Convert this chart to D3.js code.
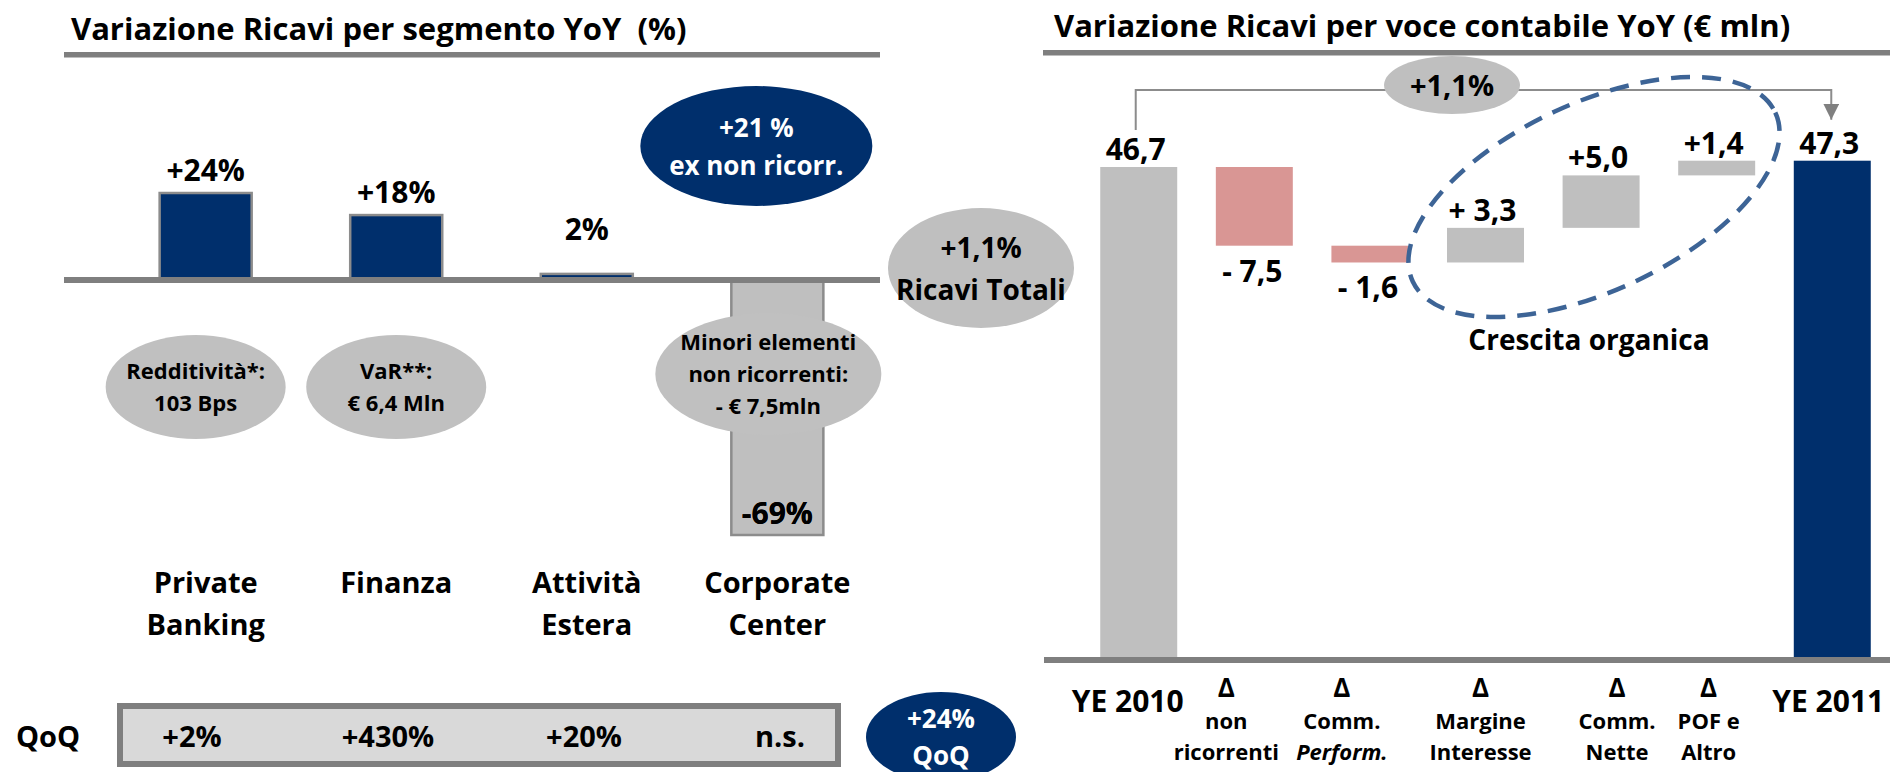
<!DOCTYPE html>
<html>
<head>
<meta charset="utf-8">
<script src="https://cdn.jsdelivr.net/npm/d3@7"></script>
<style>
  body { margin: 0; background: #fff; }
  svg text { font-family: "Open Sans", sans-serif; font-weight: 700; fill: #000; white-space: pre; }
</style>
</head>
<body>
<svg id="chart" width="1890" height="772"></svg>
<script>
/* Dati - pannello sinistro */
const segments     = ["Private Banking", "Finanza", "Attività Estera", "Corporate Center"];
const segmentLines = [["Private", "Banking"], ["Finanza"], ["Attività", "Estera"], ["Corporate", "Center"]];
const yoyValues    = [24, 18, 2, -69];
const yoyLabels    = ["+24%", "+18%", "2%", "-69%"];
const qoqLabels    = ["+2%", "+430%", "+20%", "n.s."];
const segmentNotes = [["Redditività*:", "103 Bps"], ["VaR**:", "€ 6,4 Mln"], [], ["Minori elementi", "non ricorrenti:", "- € 7,5mln"]];

/* Dati - pannello destro */
const steps      = ["YE 2010", "non ricorrenti", "Comm. Perform.", "Margine Interesse", "Comm. Nette", "POF e Altro", "YE 2011"];
const stepLines  = [["YE 2010"], ["Δ", "non", "ricorrenti"], ["Δ", "Comm.", "Perform."], ["Δ", "Margine", "Interesse"], ["Δ", "Comm.", "Nette"], ["Δ", "POF e", "Altro"], ["YE 2011"]];
const stepValues = [46.7, -7.5, -1.6, 3.3, 5.0, 1.4, 47.3];
const stepLabels = ["46,7", "- 7,5", "- 1,6", "+ 3,3", "+5,0", "+1,4", "47,3"];

/* Colori */
const navy     = "#002f6c";
const lightGry = "#bfbfbf";
const ruleGry  = "#7f7f7f";
const redish   = "#d99694";
const dashBlue = "#3d6496";

const svg = d3.select("#chart");

/* ---------- pannello sinistro ---------- */
const x1 = d3.scaleBand().domain(segments).range([112, 871]).paddingInner(0.517).paddingOuter(0.25);
const y1 = d3.scaleLinear().domain([-69, 24]).range([535, 193]);
const cx1 = d => x1(d) + x1.bandwidth() / 2;

svg.append("text")
  .attr("x", 71).attr("y", 40)
  .style("font-size", "31px")
  .text("Variazione Ricavi per segmento YoY  (%)");

svg.append("rect").attr("x", 64).attr("y", 52).attr("width", 816).attr("height", 5.5).attr("fill", ruleGry);

svg.append("g").selectAll("rect")
  .data(segments)
  .join("rect")
    .attr("x", d => x1(d))
    .attr("width", x1.bandwidth())
    .attr("y", (d, i) => Math.min(y1(0), y1(yoyValues[i])))
    .attr("height", (d, i) => Math.abs(y1(yoyValues[i]) - y1(0)))
    .attr("fill", (d, i) => yoyValues[i] < 0 ? lightGry : navy)
    .attr("stroke", "#8c8c8c")
    .attr("stroke-width", 2.5);

// asse zero
svg.append("rect").attr("x", 64).attr("y", 277).attr("width", 816).attr("height", 6).attr("fill", ruleGry);

// etichette valori
svg.append("g").selectAll("text")
  .data(segments)
  .join("text")
    .attr("x", d => cx1(d))
    .attr("y", (d, i) => yoyValues[i] < 0 ? y1(yoyValues[i]) - 11 : y1(Math.max(yoyValues[i], 8)) - 12)
    .attr("text-anchor", "middle")
    .style("font-size", "30px")
    .text((d, i) => yoyLabels[i]);

// note grigie
const noteNudge = [-10, 0, 0, -9];
const noteRx    = [90, 90, 0, 113];
const noteRy    = [52, 52, 0, 61];
const noteCy    = [387, 387, 0, 374];
segments.forEach((s, i) => {
  const lines = segmentNotes[i];
  if (!lines.length) return;
  const g = svg.append("g");
  const cx = cx1(s) + noteNudge[i];
  g.append("ellipse").attr("cx", cx).attr("cy", noteCy[i]).attr("rx", noteRx[i]).attr("ry", noteRy[i]).attr("fill", "#c0c0c0");
  g.selectAll("text").data(lines).join("text")
    .attr("x", cx)
    .attr("y", (d, k) => noteCy[i] - (lines.length - 1) * 16 + 8 + k * 32)
    .attr("text-anchor", "middle")
    .style("font-size", "22px")
    .text(d => d);
});

// -69% va sopra la nota
svg.append("text")
  .attr("x", cx1(segments[3])).attr("y", y1(yoyValues[3]) - 11)
  .attr("text-anchor", "middle").style("font-size", "30px")
  .text(yoyLabels[3]);

// ellisse blu "+21 %"
const e21 = svg.append("g");
e21.append("ellipse").attr("cx", cx1(segments[3]) - 21).attr("cy", 146).attr("rx", 116).attr("ry", 60).attr("fill", navy);
e21.selectAll("text").data(["+21 %", "ex non ricorr."]).join("text")
  .attr("x", cx1(segments[3]) - 21).attr("y", (d, k) => 137 + k * 38)
  .attr("text-anchor", "middle").style("font-size", "26px").style("fill", "#fff")
  .text(d => d);

// ellisse "+1,1% Ricavi Totali"
const eTot = svg.append("g");
eTot.append("ellipse").attr("cx", 981).attr("cy", 268).attr("rx", 93).attr("ry", 60).attr("fill", lightGry);
eTot.selectAll("text").data(["+1,1%", "Ricavi Totali"]).join("text")
  .attr("x", 981).attr("y", (d, k) => 258 + k * 42)
  .attr("text-anchor", "middle").style("font-size", "28px")
  .text(d => d);

// categorie
segments.forEach((s, i) => {
  svg.append("g").selectAll("text").data(segmentLines[i]).join("text")
    .attr("x", cx1(s)).attr("y", (d, k) => 593 + k * 42)
    .attr("text-anchor", "middle").style("font-size", "29px")
    .text(d => d);
});

// riga QoQ
svg.append("text").attr("x", 16).attr("y", 747).style("font-size", "29px").text("QoQ");
svg.append("rect").attr("x", 120).attr("y", 706).attr("width", 718).attr("height", 58)
  .attr("fill", "#d9d9d9").attr("stroke", ruleGry).attr("stroke-width", 6);
const xq = d3.scalePoint().domain(segments).range([192, 780]);
svg.append("g").selectAll("text").data(segments).join("text")
  .attr("x", d => xq(d)).attr("y", 747)
  .attr("text-anchor", "middle").style("font-size", "29px")
  .text((d, i) => qoqLabels[i]);

const eQ = svg.append("g");
eQ.append("ellipse").attr("cx", 941).attr("cy", 737).attr("rx", 75).attr("ry", 45).attr("fill", navy);
eQ.selectAll("text").data(["+24%", "QoQ"]).join("text")
  .attr("x", 941).attr("y", (d, k) => 728 + k * 37)
  .attr("text-anchor", "middle").style("font-size", "26px").style("fill", "#fff")
  .text(d => d);

/* ---------- pannello destro (waterfall) ---------- */
const x2 = d3.scaleBand().domain(steps).range([1054, 1917]).paddingInner(0.334).paddingOuter(0.4);
const y2 = d3.scaleLinear().domain([0, 46.7]).range([657, 167]);
const cx2 = d => x2(d) + x2.bandwidth() / 2;

let running = 0;
const wf = steps.map((s, i) => {
  const v = stepValues[i];
  let lo, hi;
  if (i === 0 || i === steps.length - 1) { lo = 0; hi = v; running = v; }
  else { const start = running; running = start + v; lo = Math.min(start, running); hi = Math.max(start, running); }
  return { step: s, v, lo, hi, total: i === 0 || i === steps.length - 1 };
});

svg.append("text")
  .attr("x", 1054).attr("y", 37)
  .style("font-size", "31px")
  .text("Variazione Ricavi per voce contabile YoY (€ mln)");
svg.append("rect").attr("x", 1043).attr("y", 50).attr("width", 847).attr("height", 5.5).attr("fill", ruleGry);

svg.append("g").selectAll("rect").data(wf).join("rect")
  .attr("x", d => x2(d.step))
  .attr("width", x2.bandwidth())
  .attr("y", d => y2(d.hi))
  .attr("height", d => y2(d.lo) - y2(d.hi))
  .attr("fill", (d, i) => i === steps.length - 1 ? navy : (d.v < 0 ? redish : lightGry));

svg.append("rect").attr("x", 1044).attr("y", 657).attr("width", 846).attr("height", 6).attr("fill", ruleGry);

svg.append("g").selectAll("text").data(wf).join("text")
  .attr("x", d => cx2(d.step) - (d.v < 0 ? 2 : 3))
  .attr("y", d => d.v < 0 ? y2(d.lo) + 36 : y2(d.hi) - 7)
  .attr("text-anchor", "middle").style("font-size", "30px")
  .text((d, i) => stepLabels[i]);

// freccia +1,1%
svg.append("defs").append("marker")
  .attr("id", "arrow").attr("viewBox", "0 0 10 10").attr("refX", 10).attr("refY", 5)
  .attr("markerWidth", 16).attr("markerHeight", 16).attr("markerUnits", "userSpaceOnUse")
  .attr("orient", "auto")
  .append("path").attr("d", "M0,0 L10,5 L0,10 z").attr("fill", "#808080");

const xa = cx2(steps[0]) - 3, xb = cx2(steps[steps.length - 1]) - 1;
svg.append("path")
  .attr("d", `M${xa},${y2(stepValues[0]) - 37} V90 H${xb} V${y2(stepValues[6]) - 41}`)
  .attr("fill", "none").attr("stroke", "#8c8c8c").attr("stroke-width", 2)
  .attr("marker-end", "url(#arrow)");

const eArrow = svg.append("g");
eArrow.append("ellipse").attr("cx", 1452).attr("cy", 85).attr("rx", 68).attr("ry", 29).attr("fill", lightGry);
eArrow.append("text").attr("x", 1452).attr("y", 96).attr("text-anchor", "middle").style("font-size", "29px").text("+1,1%");

// crescita organica
svg.append("ellipse")
  .attr("transform", "translate(1594,197) rotate(-25)")
  .attr("rx", 200).attr("ry", 94)
  .attr("fill", "none").attr("stroke", dashBlue).attr("stroke-width", 4.5)
  .attr("stroke-dasharray", "19,12");
svg.append("text").attr("x", 1589).attr("y", 350).attr("text-anchor", "middle").style("font-size", "28px").text("Crescita organica");

// etichette asse
const tickNudge = [-11, -28, -28, -5, 16, -8, -4];
steps.forEach((s, i) => {
  const lines = stepLines[i];
  const tx = cx2(s) + tickNudge[i];
  if (lines.length === 1) {
    svg.append("text").attr("x", tx).attr("y", 712).attr("text-anchor", "middle").style("font-size", "30px").text(lines[0]);
    return;
  }
  svg.append("g").selectAll("text").data(lines).join("text")
    .attr("x", tx).attr("y", (d, k) => 697 + k * 31.5)
    .attr("text-anchor", "middle")
    .style("font-size", (d, k) => k === 0 ? "26px" : "22px")
    .style("font-style", (d, k) => lines[k] === "Perform." ? "italic" : "normal")
    .text(d => d);
});
</script>
</body>
</html>
